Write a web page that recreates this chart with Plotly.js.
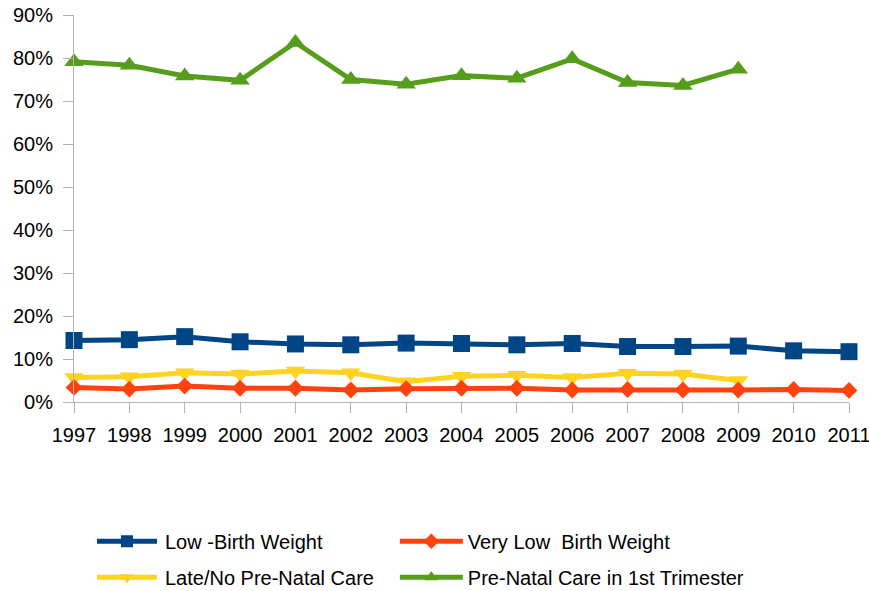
<!DOCTYPE html>
<html>
<head>
<meta charset="utf-8">
<script src="https://cdn.plot.ly/plotly-3.0.1.min.js"></script>
<style>
  html, body { margin: 0; padding: 0; background: #ffffff; }
  #chart { width: 869px; height: 591px; }
</style>
</head>
<body>
<div id="chart"></div>
<script>
// Birth outcome indicators by year (share of births)
const years = [1997, 1998, 1999, 2000, 2001, 2002, 2003, 2004, 2005, 2006, 2007, 2008, 2009, 2010, 2011];
const lowBirthWeight = [0.143, 0.145, 0.152, 0.140, 0.135, 0.133, 0.137, 0.136, 0.133, 0.136, 0.129, 0.129, 0.130, 0.119, 0.117];
const veryLowBirthWeight = [0.034, 0.030, 0.037, 0.032, 0.032, 0.028, 0.031, 0.032, 0.032, 0.028, 0.029, 0.028, 0.028, 0.029, 0.027];
const yearsCare = [1997, 1998, 1999, 2000, 2001, 2002, 2003, 2004, 2005, 2006, 2007, 2008, 2009];
const lateNoCare = [0.057, 0.059, 0.068, 0.065, 0.072, 0.068, 0.047, 0.060, 0.062, 0.057, 0.067, 0.065, 0.050];
const firstTrimesterCare = [0.791, 0.783, 0.758, 0.748, 0.836, 0.750, 0.739, 0.759, 0.753, 0.798, 0.743, 0.736, 0.774];

const seriesNames = ['Low -Birth Weight', 'Very Low  Birth Weight', 'Late/No Pre-Natal Care', 'Pre-Natal Care in 1st Trimester'];
const colors = ['#004586', '#ff420e', '#ffd320', '#579d1c'];

function series(x, y, i, symbol, size, legend) {
  return {
    x: x, y: y, name: seriesNames[i], type: 'scatter', mode: 'lines+markers',
    line: { color: colors[i], width: 5 },
    marker: { color: colors[i], symbol: symbol, size: size },
    cliponaxis: false,
    legend: legend, legendgroup: 'g' + i
  };
}

const traces = [
  series(years, lowBirthWeight, 0, 'square', 17, 'legend'),
  series(yearsCare, lateNoCare, 2, 'triangle-down', 17, 'legend'),
  series(years, veryLowBirthWeight, 1, 'diamond', 13, 'legend2'),
  series(yearsCare, firstTrimesterCare, 3, 'triangle-up', 17, 'legend2')
];

const FONT = 'Liberation Sans, Arial, sans-serif';
const axisGrey = '#b3b3b3';
const SYMBOL_LINE = 60;   // length of the line sample in each legend entry

const legendCommon = {
  orientation: 'v', yanchor: 'top', y: -0.3095, xanchor: 'left',
  traceorder: 'grouped', tracegroupgap: 7, itemsizing: 'constant',
  itemwidth: SYMBOL_LINE + 3,
  font: { family: FONT, size: 20, color: '#000000' },
  bgcolor: 'rgba(0,0,0,0)'
};

const layout = {
  width: 869, height: 591,
  margin: { l: 74, r: 20, t: 15, b: 189, autoexpand: false },
  paper_bgcolor: '#ffffff', plot_bgcolor: '#ffffff',
  font: { family: FONT, size: 20, color: '#000000' },
  showlegend: true,
  xaxis: {
    range: [1997, 2011], dtick: 1, tick0: 1997,
    showgrid: false, zeroline: false,
    showline: true, linecolor: axisGrey, linewidth: 1,
    ticks: 'outside', ticklen: 10, tickcolor: axisGrey,
    ticklabelstandoff: 5, ticklabeloverflow: 'allow'
  },
  yaxis: {
    range: [0, 0.9], dtick: 0.1, tickformat: '.0%',
    showgrid: false, zeroline: false,
    showline: true, linecolor: axisGrey, linewidth: 1,
    ticks: 'outside', ticklen: 10, tickcolor: axisGrey,
    ticklabelstandoff: 6, ticklabeloverflow: 'allow'
  },
  legend: Object.assign({}, legendCommon, { x: 0.0232 }),
  legend2: Object.assign({}, legendCommon, { x: 0.414 })
};

// Stretch the legend line samples so the marker sits in the middle of a longer line
function stretchLegendLines(gd) {
  gd.querySelectorAll('.legend .traces').forEach(function (item) {
    item.querySelectorAll('.legendlines path').forEach(function (p) {
      p.setAttribute('d', 'M5,0h' + SYMBOL_LINE);
    });
    item.querySelectorAll('.legendpoints path').forEach(function (p) {
      p.setAttribute('transform', 'translate(' + (5 + SYMBOL_LINE / 2) + ',0)');
    });
  });
}

Plotly.newPlot('chart', traces, layout, { displayModeBar: false, staticPlot: true })
  .then(function (gd) { stretchLegendLines(gd); });
</script>
</body>
</html>
